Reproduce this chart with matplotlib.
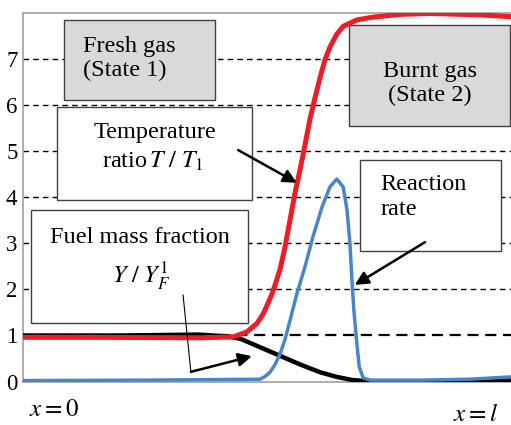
import numpy as np
import matplotlib
matplotlib.use("Agg")
import matplotlib.pyplot as plt
from matplotlib.patches import Rectangle

plt.rcParams['font.family'] = ['Liberation Serif', 'DejaVu Serif']
plt.rcParams['mathtext.fontset'] = 'stix'

# Profiles across the flame, x normalised to [0, 1]
temp_x = [0.0, 0.158, 0.363, 0.431, 0.459, 0.480, 0.492, 0.502, 0.510, 0.516,
          0.527, 0.537, 0.547, 0.557, 0.568, 0.578, 0.588, 0.598, 0.609, 0.619,
          0.629, 0.643, 0.656, 0.684, 0.717, 0.773, 0.834, 0.936, 1.0]
temp_y = [0.96, 0.96, 0.95, 0.97, 1.08, 1.27, 1.47, 1.7, 1.9, 2.08,
          2.45, 2.93, 3.5, 4.08, 4.62, 5.15, 5.7, 6.15, 6.62, 7.0,
          7.27, 7.55, 7.72, 7.86, 7.92, 7.98, 8.0, 7.97, 7.93]

rate_x = [0.0, 0.26, 0.486, 0.496, 0.506, 0.516, 0.527, 0.537, 0.547, 0.561,
          0.578, 0.594, 0.613, 0.629, 0.643, 0.656, 0.664, 0.670, 0.674, 0.678,
          0.684, 0.689, 0.697, 0.711, 0.814, 0.916, 1.0]
rate_y = [0.02, 0.03, 0.05, 0.11, 0.2, 0.36, 0.6, 0.92, 1.32, 1.9,
          2.5, 3.14, 3.8, 4.23, 4.4, 4.23, 3.73, 3.0, 2.2, 1.55,
          0.84, 0.32, 0.08, 0.03, 0.03, 0.05, 0.1]

fuel_x = [0.0, 0.2, 0.36, 0.42, 0.445, 0.465, 0.5, 0.533, 0.568, 0.609,
          0.643, 0.676, 0.75, 0.85, 0.95, 1.0]
fuel_y = [1.0, 1.0, 1.02, 0.98, 0.93, 0.84, 0.68, 0.53, 0.37, 0.2,
          0.1, 0.03, -0.02, -0.02, 0.0, 0.03]

yticks = [0, 1, 2, 3, 4, 5, 6, 7]

fig = plt.figure(figsize=(5.11, 4.25), dpi=100)
ax = fig.add_axes([23 / 511, 43.5 / 425, 488 / 511, 368.5 / 425])
ax.set_xlim(0, 1)
ax.set_ylim(0, 8.01)

# dashed reference levels
for lev in yticks[1:]:
    ax.axhline(lev, color='black', lw=1.6 if lev == 1 else 1.0,
               ls=(0, (5, 3)) if lev == 1 else (0, (4, 3)), zorder=1)

ax.set_yticks(yticks)
ax.set_xticks([])
ax.tick_params(axis='y', length=0, labelsize=16.5, pad=4)
for side in ['left', 'top', 'bottom']:
    ax.spines[side].set_color('#a0a0a0')
    ax.spines[side].set_linewidth(1.2)
ax.spines['right'].set_visible(False)

ax.plot(fuel_x, fuel_y, color='black', lw=3.2, zorder=4, solid_capstyle='butt')
ax.plot(temp_x, temp_y, color='#ee1c25', lw=3.6, zorder=5, solid_capstyle='butt')
ax.plot(rate_x, rate_y, color='#4a86c5', lw=2.5, zorder=6, solid_capstyle='butt')


def box(x0, y0, x1, y1, fc):
    ax.add_patch(Rectangle((x0, y0), x1 - x0, y1 - y0, facecolor=fc,
                           edgecolor='#404040', lw=1.0, zorder=3))


box(0.084, 6.12, 0.393, 7.86, '#d9d9d9')
box(0.668, 5.55, 0.998, 7.75, '#d9d9d9')
box(0.070, 3.95, 0.469, 5.97, 'white')
box(0.016, 1.27, 0.461, 3.73, 'white')
box(0.691, 2.84, 0.980, 4.81, 'white')

fs = 17.5
ax.text(0.123, 7.02, 'Fresh gas\n(State 1)', fontsize=fs, ha='left', va='center',
        linespacing=1.15, zorder=7)
ax.text(0.833, 6.48, 'Burnt gas\n(State 2)', fontsize=fs, ha='center', va='center',
        multialignment='center', linespacing=1.15, zorder=7)
ax.text(0.27, 5.42, 'Temperature', fontsize=fs, ha='center', va='center', zorder=7)
ax.text(0.265, 4.78, r'ratio$\,T\ /\ T_1$', fontsize=fs, ha='center', va='center', zorder=7)
ax.text(0.24, 3.12, 'Fuel mass fraction', fontsize=fs, ha='center', va='center', zorder=7)
ax.text(0.242, 2.27, r'$Y\ /\ Y_F^{1}$', fontsize=fs, ha='center', va='center', zorder=7)
ax.text(0.732, 4.0, 'Reaction\nrate', fontsize=fs, ha='left', va='center',
        linespacing=1.25, zorder=7)

ax.text(0.064, -0.62, r'$x=0$', fontsize=18, ha='center', va='center', clip_on=False)
ax.text(0.928, -0.73, r'$x=l$', fontsize=18, ha='center', va='center', clip_on=False)

arrow = dict(arrowstyle='-|>', color='black', lw=1.8, mutation_scale=20,
             shrinkA=0, shrinkB=0)
ax.annotate('', xy=(0.561, 4.32), xytext=(0.441, 5.03), arrowprops=arrow, zorder=8)
ax.plot([0.328, 0.344], [1.88, 0.21], color='black', lw=0.8, zorder=8)
ax.annotate('', xy=(0.469, 0.55), xytext=(0.344, 0.21), arrowprops=arrow, zorder=8)
ax.annotate('', xy=(0.680, 2.10), xytext=(0.824, 3.03), arrowprops=arrow, zorder=8)

fig.savefig('out.png', dpi=100)
